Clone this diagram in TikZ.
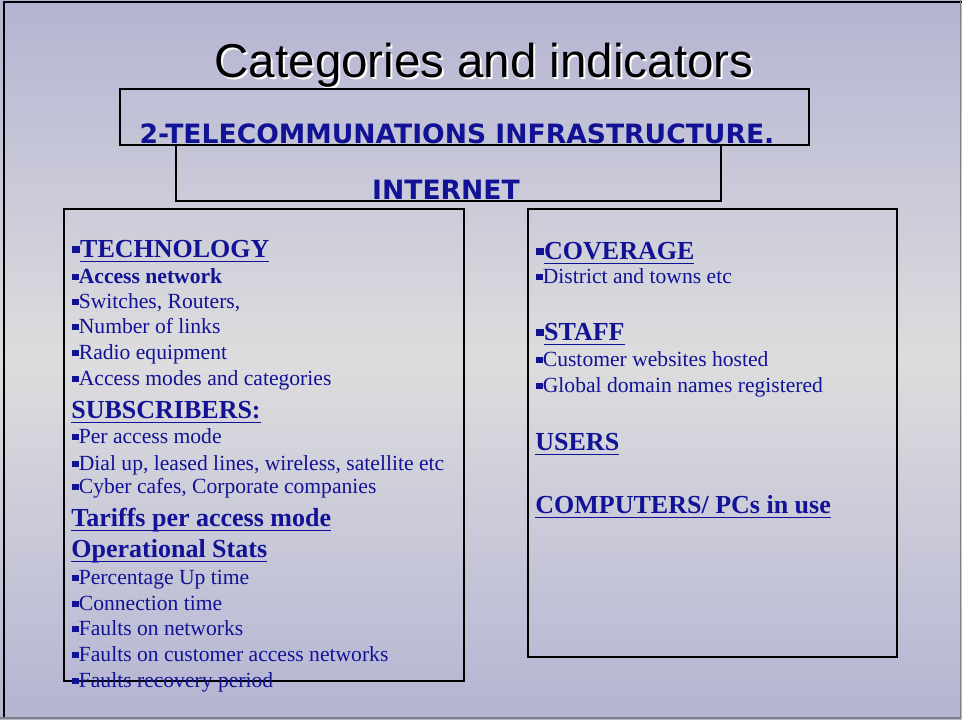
\documentclass[tikz,border=0pt]{standalone}
\usepackage{fontspec}
\setmainfont{Liberation Serif}
\newfontfamily\titlefont{Liberation Sans}
\newfontfamily\bannerfont{DejaVu Sans}
\definecolor{slideblue}{RGB}{18,18,150}
\definecolor{lavender}{RGB}{180,180,211}
\definecolor{paleback}{RGB}{221,221,222}
\newsavebox{\hdbox}
\newcommand{\sq}{\rule[0.14em]{0.3em}{0.3em}}
\newcommand{\hd}[1]{\sbox{\hdbox}{#1}\rlap{\rule[-0.2em]{\wd\hdbox}{0.75pt}}\usebox{\hdbox}}

\tikzset{
  line/.style={anchor=base west, inner sep=0pt, text=slideblue,
    font=\fontsize{10.8}{12}\selectfont},
  head/.style={anchor=base west, inner sep=0pt, text=slideblue,
    font=\fontsize{13}{15}\selectfont\bfseries},
  banner/.style={anchor=base, inner sep=0pt, text=slideblue,
    font=\bannerfont\fontsize{13.3}{15}\selectfont\bfseries},
  frame/.style={draw=black, line width=0.8pt}
}

\begin{document}
\begin{tikzpicture}[x=0.5pt, y=-0.5pt]
  \useasboundingbox (0,0) rectangle (962,719);
  \shade[top color=lavender, bottom color=lavender, middle color=paleback]
    (0,0) rectangle (962,719);
  \draw[black, line width=1pt] (4,719) -- (4,1.5) -- (962,1.5);
  \draw[gray, line width=0.6pt] (960.5,0) -- (960.5,718) -- (0,718);

  % title with its white shadow
  \node[anchor=base, inner sep=0pt, text=white,
    font=\titlefont\fontsize{23.75}{28}\selectfont] (TS) at (486,79) {Categories and indicators};
  \node[anchor=base, inner sep=0pt, text=black,
    font=\titlefont\fontsize{23.75}{28}\selectfont] (T) at (484,77) {Categories and indicators};

  % banner boxes
  \draw[frame] (120,89) rectangle (809,145);
  \draw[frame] (176,145) rectangle (721,201);
  \node[banner] (B1) at (457,143.5) {2-TELECOMMUNATIONS INFRASTRUCTURE.};
  \node[banner] (B2) at (446,199.5) {INTERNET};

  % the two columns
  \draw[frame] (64,209) rectangle (464,681);
  \draw[frame] (528,209) rectangle (897,657);

  \node[head] (L1) at (72,257) {\sq\hd{TECHNOLOGY}};
  \node[line] (L2) at (72,283) {\sq\textbf{Access network}};
  \node[line] (L3) at (72,308) {\sq Switches, Routers,};
  \node[line] (L4) at (72,333) {\sq Number of links};
  \node[line] (L5) at (72,359) {\sq Radio equipment};
  \node[line] (L6) at (72,385) {\sq Access modes and categories};
  \node[head] (L7) at (71,418) {\hd{SUBSCRIBERS:}};
  \node[line] (L8) at (72,443) {\sq Per access mode};
  \node[line] (L9) at (72,470) {\sq Dial up, leased lines, wireless, satellite etc};
  \node[line] (L10) at (72,493) {\sq Cyber cafes, Corporate companies};
  \node[head] (L11) at (71,526) {\hd{Tariffs per access mode}};
  \node[head] (L12) at (71,557) {\hd{Operational Stats}};
  \node[line] (L13) at (72,584) {\sq Percentage Up time};
  \node[line] (L14) at (72,610) {\sq Connection time};
  \node[line] (L15) at (72,635) {\sq Faults on networks};
  \node[line] (L16) at (72,661) {\sq Faults on customer access networks};
  \node[line] (L17) at (72,687) {\sq Faults recovery period};

  \node[head] (R1) at (536,259) {\sq\hd{COVERAGE}};
  \node[line] (R2) at (536,283) {\sq District and towns etc};
  \node[head] (R3) at (536,340) {\sq\hd{STAFF}};
  \node[line] (R4) at (536,366) {\sq Customer websites hosted};
  \node[line] (R5) at (536,392) {\sq Global domain names registered};
  \node[head] (R6) at (535,450) {\hd{USERS}};
  \node[head] (R7) at (535,513) {\hd{COMPUTERS/ PCs in use}};
\end{tikzpicture}
\end{document}
